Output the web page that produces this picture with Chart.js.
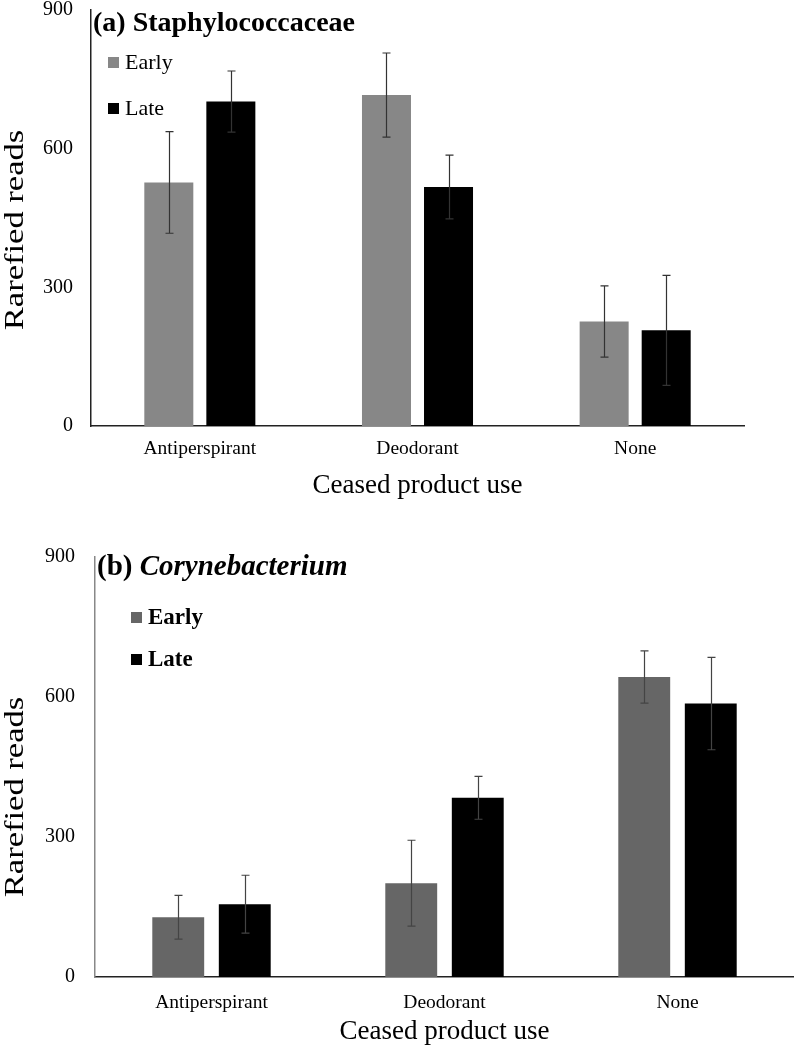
<!DOCTYPE html>
<html><head><meta charset="utf-8">
<script src="https://cdn.jsdelivr.net/npm/chart.js@4.4.1/dist/chart.umd.min.js"></script>
<style>
body{margin:0;background:#fff;width:794px;height:1048px;overflow:hidden;position:relative}
canvas{position:absolute;left:0}
#ca{top:0;width:794px;height:505px}
#cb{top:545px;width:794px;height:503px}
</style></head><body>
<canvas id="ca" width="794" height="505"></canvas>
<canvas id="cb" width="794" height="503"></canvas>
<script>
const categories = ['Antiperspirant', 'Deodorant', 'None'];
const seriesNames = ['Early', 'Late'];
const yTicks = [0, 300, 600, 900];

const staphEarly = [527, 716, 226];
const staphEarlyErr = [110, 91, 77];
const staphLate = [702, 517, 207];
const staphLateErr = [66, 69, 119];

const coryEarly = [128, 201, 643];
const coryEarlyErr = [47, 92, 56];
const coryLate = [156, 384, 586];
const coryLateErr = [62, 46, 99];

const SERIF = '"Liberation Serif", "Times New Roman", serif';

const errorBarPlugin = {
  id: 'errorBars',
  afterDatasetsDraw(chart, args, opts) {
    const ctx = chart.ctx;
    const y = chart.scales.y;
    ctx.save();
    ctx.strokeStyle = opts.color || '#333';
    ctx.lineWidth = 1.2;
    chart.data.datasets.forEach((ds, di) => {
      const meta = chart.getDatasetMeta(di);
      meta.data.forEach((el, i) => {
        const v = ds.data[i], e = ds.errors[i];
        const yt = y.getPixelForValue(v + e), yb = y.getPixelForValue(v - e);
        const x = Math.round(el.x) + 0.5;
        ctx.beginPath();
        ctx.moveTo(x, yt); ctx.lineTo(x, yb);
        ctx.moveTo(x - 4, yt); ctx.lineTo(x + 4, yt);
        ctx.moveTo(x - 4, yb); ctx.lineTo(x + 4, yb);
        ctx.stroke();
      });
    });
    ctx.restore();
  }
};

const headerPlugin = {
  id: 'header',
  afterDraw(chart, args, o) {
    const ctx = chart.ctx;
    ctx.save();
    ctx.fillStyle = '#000';
    ctx.textBaseline = 'alphabetic';
    ctx.textAlign = 'left';
    let x = o.titleX;
    o.titleParts.forEach(p => {
      ctx.font = p.font;
      ctx.fillText(p.text, x, o.titleY);
      x += ctx.measureText(p.text).width;
    });
    chart.data.datasets.forEach((ds, i) => {
      const ly = o.legendY[i];
      ctx.fillStyle = ds.backgroundColor;
      ctx.fillRect(o.legendX, ly - o.box - 1, o.box, o.box);
      ctx.fillStyle = '#000';
      ctx.font = o.legendFont;
      ctx.fillText(ds.label, o.legendX + o.box + 6, ly);
    });
    // y-axis title (stretched along its length like the reference)
    ctx.save();
    ctx.translate(o.yTitleX, o.yTitleY);
    ctx.rotate(-Math.PI / 2);
    ctx.scale(o.yTitleStretch, 1);
    ctx.font = '27px ' + SERIF;
    ctx.textAlign = 'center';
    ctx.textBaseline = 'middle';
    ctx.fillStyle = '#000';
    ctx.fillText(o.yTitle, 0, 0);
    ctx.restore();
    ctx.restore();
  }
};

function makeChart(id, early, earlyErr, late, lateErr, cfg) {
  return new Chart(document.getElementById(id), {
    type: 'bar',
    data: {
      labels: categories,
      datasets: [
        { label: seriesNames[0], data: early, errors: earlyErr, backgroundColor: cfg.earlyColor,
          categoryPercentage: cfg.catPct, barPercentage: cfg.barPct },
        { label: seriesNames[1], data: late, errors: lateErr, backgroundColor: '#000000',
          categoryPercentage: cfg.catPct, barPercentage: cfg.barPct }
      ]
    },
    options: {
      responsive: false,
      animation: false,
      layout: { padding: cfg.padding },
      plugins: {
        legend: { display: false },
        tooltip: { enabled: false },
        errorBars: { color: cfg.errColor },
        header: cfg.header
      },
      scales: {
        x: {
          grid: { display: false, drawTicks: false },
          border: { display: true, color: '#222', width: 1.5 },
          ticks: { color: '#000', font: { family: SERIF, size: 19.5 }, padding: cfg.xTickPad },
          title: { display: true, text: 'Ceased product use', color: '#000',
                   font: { family: SERIF, size: 27 }, padding: { top: 0, bottom: cfg.xTitlePad } },
          afterFit(s) { s.height = cfg.xHeight; s.paddingLeft = 0; s.paddingRight = 0; }
        },
        y: {
          min: 0, max: 900,
          afterBuildTicks(s) { s.ticks = yTicks.map(v => ({ value: v })); },
          grid: { display: false, drawTicks: false },
          border: { display: true, color: cfg.yAxisColor, width: 1.5 },
          ticks: { color: '#000', font: { family: SERIF, size: 20 }, padding: cfg.yTickPad },
          title: { display: false },
          afterFit(s) { s.width = cfg.yWidth; s.paddingTop = 0; s.paddingBottom = 0; }
        }
      }
    },
    plugins: [errorBarPlugin, headerPlugin]
  });
}

makeChart('ca', staphEarly, staphEarlyErr, staphLate, staphLateErr, {
  earlyColor: '#878787', errColor: '#333', yAxisColor: '#222',
  catPct: 0.57, barPct: 0.79,
  padding: { top: 10, right: 50, left: 0, bottom: 0 },
  xHeight: 79, yWidth: 91, xTickPad: 11, yTickPad: 18, xTitlePad: 3,
  header: {
    titleX: 93, titleY: 31,
    titleParts: [{ text: '(a) Staphylococcaceae', font: 'bold 28px ' + SERIF }],
    legendX: 108, legendY: [69, 115], box: 11, legendFont: '22px ' + SERIF,
    yTitle: 'Rarefied reads', yTitleX: 16, yTitleY: 230, yTitleStretch: 1.28
  }
});

makeChart('cb', coryEarly, coryEarlyErr, coryLate, coryLateErr, {
  earlyColor: '#666666', errColor: '#444', yAxisColor: '#888',
  catPct: 0.571, barPct: 0.78,
  padding: { top: 12, right: 0, left: 0, bottom: 0 },
  xHeight: 71, yWidth: 95, xTickPad: 14, yTickPad: 20, xTitlePad: 0,
  header: {
    titleX: 97, titleY: 30,
    titleParts: [{ text: '(b) ', font: 'bold 29px ' + SERIF },
                 { text: 'Corynebacterium', font: 'italic bold 29px ' + SERIF }],
    legendX: 131, legendY: [79, 121], box: 11, legendFont: 'bold 23px ' + SERIF,
    yTitle: 'Rarefied reads', yTitleX: 16, yTitleY: 252, yTitleStretch: 1.28
  }
});
</script>
</body></html>
